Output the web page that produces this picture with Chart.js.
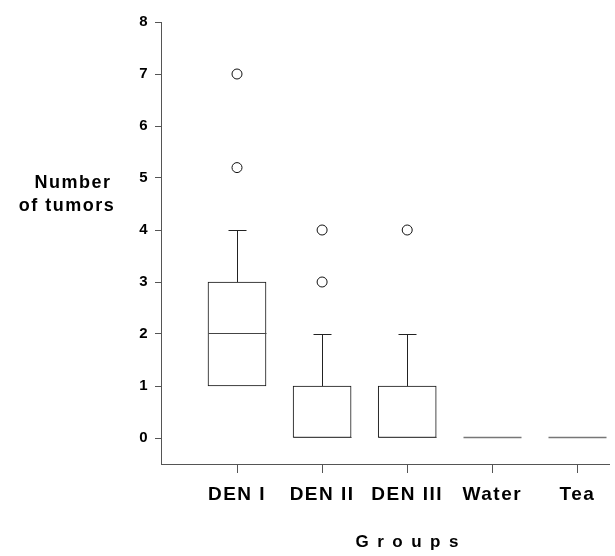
<!DOCTYPE html>
<html lang="en">
<head>
    <meta charset="UTF-8">
    <title>Number of tumors by group</title>
    <script src="https://cdn.jsdelivr.net/npm/chart.js"></script>
    <style>
        body { margin: 0; background: #fff; }
    </style>
</head>
<body>
    <canvas id="boxChart" width="615" height="556"></canvas>

    <script>
        // groups on the x axis
        const groups = ['DEN I', 'DEN II', 'DEN III', 'Water', 'Tea'];

        // box plot summary for every group
        const q1 = [1, 0, 0, 0, 0];
        const median = [2, 0, 0, 0, 0];
        const q3 = [3, 1, 1, 0, 0];
        const whiskerLow = [1, 0, 0, 0, 0];
        const whiskerHigh = [4, 2, 2, 0, 0];

        // outliers: group index and value
        const outlierGroup = [0, 0, 1, 1, 2];
        const outlierValue = [7, 5.2, 4, 3, 4];

        const yTicks = [0, 1, 2, 3, 4, 5, 6, 7, 8];

        const FONT = '"Liberation Sans", Arial, Helvetica, sans-serif';
        const AXIS_COLOR = '#555';

        // median lines and whiskers, placed with the chart scales
        const boxParts = {
            id: 'boxParts',
            afterDatasetsDraw(chart) {
                const { ctx, scales: { x, y } } = chart;
                ctx.save();
                ctx.lineWidth = 1;
                groups.forEach((g, i) => {
                    const cx = Math.round(x.getPixelForValue(i)) + 0.5;
                    const half = 29;
                    const cap = 9;

                    const ym = Math.round(y.getPixelForValue(median[i])) - 0.5;
                    ctx.strokeStyle = q3[i] === q1[i] ? '#777' : '#444';
                    ctx.lineWidth = q3[i] === q1[i] ? 1.5 : 1;
                    ctx.beginPath();
                    ctx.moveTo(cx - half, ym);
                    ctx.lineTo(cx + half, ym);
                    ctx.stroke();

                    ctx.lineWidth = 1;
                    ctx.strokeStyle = '#222';
                    if (whiskerHigh[i] > q3[i]) {
                        const yTop = Math.round(y.getPixelForValue(whiskerHigh[i])) + 0.5;
                        const yBox = Math.round(y.getPixelForValue(q3[i]));
                        ctx.beginPath();
                        ctx.moveTo(cx, yBox);
                        ctx.lineTo(cx, yTop);
                        ctx.moveTo(cx - cap, yTop);
                        ctx.lineTo(cx + cap, yTop);
                        ctx.stroke();
                    }
                    if (whiskerLow[i] < q1[i]) {
                        const yBot = Math.round(y.getPixelForValue(whiskerLow[i])) - 0.5;
                        const yBox = Math.round(y.getPixelForValue(q1[i]));
                        ctx.beginPath();
                        ctx.moveTo(cx, yBox);
                        ctx.lineTo(cx, yBot);
                        ctx.moveTo(cx - cap, yBot);
                        ctx.lineTo(cx + cap, yBot);
                        ctx.stroke();
                    }
                });
                ctx.restore();
            }
        };

        // spaced-out text as in the original figure
        const titles = {
            id: 'titles',
            beforeDraw(chart) {
                chart.ctx.letterSpacing = '1.5px';
            },
            afterDraw(chart) {
                const { ctx, scales: { x } } = chart;
                ctx.save();
                ctx.fillStyle = '#000';
                ctx.textAlign = 'center';
                ctx.textBaseline = 'alphabetic';

                ctx.font = 'bold 18px ' + FONT;
                ctx.letterSpacing = '1.5px';
                ctx.fillText('Number', 73, 188);
                ctx.fillText('of tumors', 67, 211);

                ctx.font = 'bold 17px ' + FONT;
                ctx.letterSpacing = '8.5px';
                ctx.fillText('Groups', x.getPixelForValue(2) + 4, 547);
                ctx.restore();
            }
        };

        const ctx = document.getElementById('boxChart').getContext('2d');

        const config = {
            type: 'scatter',
            data: {
                datasets: [
                    {
                        type: 'bar',
                        label: 'box',
                        data: groups.map((g, i) => ({ x: i, y: [q1[i], q3[i]] })),
                        backgroundColor: '#fff',
                        borderColor: '#111',
                        borderWidth: 1,
                        borderSkipped: false,
                        barThickness: 58
                    },
                    {
                        type: 'scatter',
                        label: 'outliers',
                        data: outlierValue.map((v, i) => ({ x: outlierGroup[i], y: v })),
                        pointStyle: 'circle',
                        pointRadius: 5,
                        pointBackgroundColor: '#fff',
                        pointBorderColor: '#111',
                        pointBorderWidth: 1
                    }
                ]
            },
            options: {
                responsive: false,
                animation: false,
                layout: { padding: { top: 22, right: 0, left: 0, bottom: 0 } },
                plugins: {
                    legend: { display: false },
                    tooltip: { enabled: false }
                },
                scales: {
                    x: {
                        type: 'linear',
                        min: -0.893,
                        max: 4.371,
                        offset: false,
                        afterBuildTicks(scale) {
                            scale.ticks = groups.map((g, i) => ({ value: i }));
                        },
                        afterFit(scale) { scale.height = 92; },
                        grid: {
                            display: true,
                            offset: false,
                            drawOnChartArea: false,
                            drawTicks: true,
                            tickLength: 9,
                            tickColor: AXIS_COLOR
                        },
                        border: { display: true, color: AXIS_COLOR, width: 1 },
                        ticks: {
                            autoSkip: false,
                            maxRotation: 0,
                            padding: 10,
                            color: '#000',
                            font: { family: FONT, size: 19, weight: 'bold' },
                            callback: (v) => groups[v]
                        }
                    },
                    y: {
                        type: 'linear',
                        min: -0.5,
                        max: 8,
                        afterBuildTicks(scale) {
                            scale.ticks = yTicks.map(v => ({ value: v }));
                        },
                        afterFit(scale) { scale.width = 161; },
                        grid: {
                            display: true,
                            drawOnChartArea: false,
                            drawTicks: true,
                            tickLength: 6,
                            tickColor: AXIS_COLOR
                        },
                        border: { display: true, color: AXIS_COLOR, width: 1 },
                        ticks: {
                            padding: 6,
                            color: '#000',
                            font: { family: FONT, size: 15, weight: 'bold' }
                        }
                    }
                }
            },
            plugins: [boxParts, titles]
        };

        const chart = new Chart(ctx, config);
    </script>
</body>
</html>
